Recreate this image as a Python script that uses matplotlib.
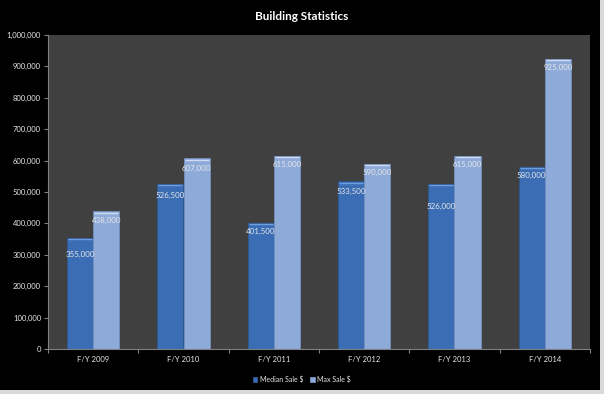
import numpy as np
import matplotlib
matplotlib.use("Agg")
import matplotlib.pyplot as plt
from matplotlib.patches import Rectangle
from matplotlib.ticker import FuncFormatter

# ── Data ────────────────────────────────────────────────────────────────────
years = ["F/Y 2009", "F/Y 2010", "F/Y 2011", "F/Y 2012", "F/Y 2013", "F/Y 2014"]
median_sale = [355000, 526500, 401500, 533500, 526000, 580000]
max_sale = [438000, 607000, 615000, 590000, 615000, 925000]

# label drop below bar top, in pixels (Excel nudged a couple of them)
median_drop = [17, 12, 9, 10, 23, 9]
max_drop = [9, 10, 9, 9, 9, 9]

C_MED = "#3a6db4"
C_MAX = "#8eaad9"
TXT = "#e6e6e6"

plt.rcParams.update({"font.family": ["Lato", "DejaVu Sans"], "font.size": 5.5})

fig = plt.figure(figsize=(6.04, 3.94), dpi=100, facecolor="#d9d9d9")
fig.patches.append(Rectangle((0, 4 / 394), 600 / 604, 390 / 394,
                             transform=fig.transFigure, facecolor="black",
                             edgecolor="none", zorder=-1))

ax = fig.add_axes([48 / 604, 45 / 394, 542 / 604, 314 / 394], zorder=1)
ax.set_facecolor("#404040")

x = np.arange(len(years))
w = 0.29
b1 = ax.bar(x - w / 2, median_sale, w, color=C_MED, edgecolor="#2d5894",
            linewidth=0.6, label="Median Sale $", zorder=2)
b2 = ax.bar(x + w / 2, max_sale, w, color=C_MAX, edgecolor="#7590c0",
            linewidth=0.6, label="Max Sale $", zorder=2)

# light top highlight to mimic the Excel bevel (drawn just inside the bar top)
px = 1000000 / 314
for bars, hl in ((b1, "#6f9ee0"), (b2, "#cddcf4")):
    for r in bars:
        ax.plot([r.get_x() + 0.012, r.get_x() + r.get_width() - 0.012],
                [r.get_height() - 1.5 * px] * 2, color=hl, lw=1.0, zorder=3,
                solid_capstyle="butt")

for bars, vals, drops in ((b1, median_sale, median_drop), (b2, max_sale, max_drop)):
    for r, v, d in zip(bars, vals, drops):
        ax.annotate(f"{v:,}", (r.get_x() + r.get_width() / 2, v),
                    xytext=(0, -d * 0.72), textcoords="offset points",
                    ha="center", va="center", color=TXT, fontsize=5.7, zorder=4)

ax.set_xlim(-0.5, len(years) - 0.5)
ax.set_ylim(0, 1000000)
ax.set_yticks(np.arange(0, 1000001, 100000))
ax.yaxis.set_major_formatter(FuncFormatter(lambda v, p: f"{int(v):,}"))

ax.set_xticks(np.arange(-0.5, len(years)), [""] * (len(years) + 1))
ax.set_xticks(x, years, minor=True)
ax.tick_params(axis="x", which="major", length=3, color="#808080", direction="out")
ax.tick_params(axis="x", which="minor", length=0, pad=5, colors=TXT, labelsize=5.5)
ax.tick_params(axis="y", length=3, color="#808080", colors=TXT, labelsize=5.5, pad=2)

for s in ("top", "right"):
    ax.spines[s].set_visible(False)
for s in ("left", "bottom"):
    ax.spines[s].set_color("#808080")
    ax.spines[s].set_linewidth(0.8)

fig.text(0.5, 1 - 17 / 394, "Building Statistics", ha="center", va="center",
         color="white", fontsize=8.5, fontweight="bold")

leg = fig.legend(handles=[b1, b2], loc="center", bbox_to_anchor=(0.5, 1 - 379 / 394),
                 ncol=2, frameon=False, fontsize=5, handlelength=0.6,
                 handleheight=0.6, handletextpad=0.4, columnspacing=1.0)
for t in leg.get_texts():
    t.set_color(TXT)

fig.savefig("out.png", dpi=100, facecolor=fig.get_facecolor())
